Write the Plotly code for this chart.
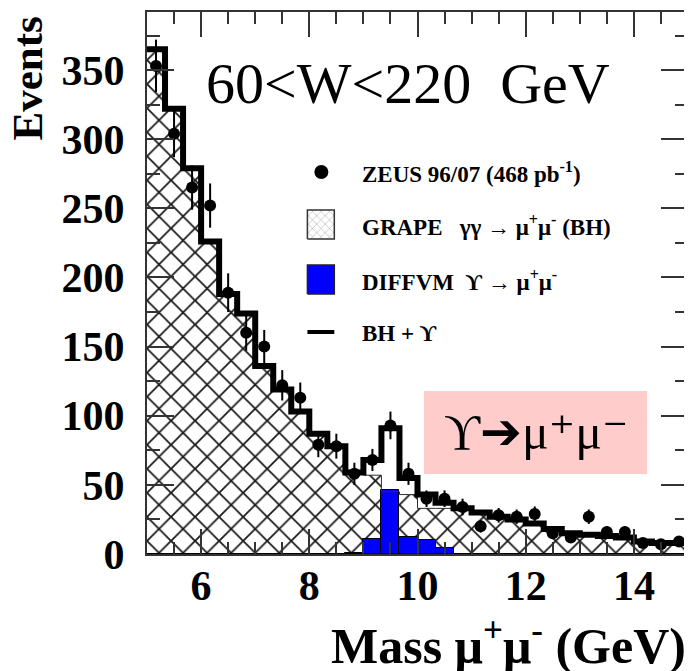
import numpy as np
import plotly.graph_objects as go

# ---------------- data ----------------
mass_lo, mass_hi, n_bins = 5.0, 15.0, 30
bin_width = (mass_hi - mass_lo) / n_bins

zeus_events = [353, 304, 265, 252, 189, 160, 150, 122, 113, 79,
               78, 58, 68, 93, 58, 40, 40, 34, 20, 28,
               27, 29, 15, 12, 27, 16, 16, 8, 7, 9]
zeus_errors = [19, 17, 16, 16, 14, 13, 12, 11, 11, 9,
               9, 8, 8, 10, 8, 6, 6, 6, 4.5, 5.3,
               5.2, 5.4, 3.9, 3.5, 5.2, 4, 4, 2.8, 2.6, 3]
grape_bh = [365, 322, 279, 226, 188, 174, 136, 119, 103, 87,
            78, 58, 57, 45, 43, 33, 33, 33, 30, 27,
            25, 22, 18, 15, 14, 13, 12, 9, 8, 8]
diffvm_upsilon = [0, 0, 0, 0, 0, 0, 0, 0, 0, 0,
                  0, 1, 11, 46, 12, 10, 4, 0, 0, 0,
                  0, 0, 0, 0, 0, 0, 0, 0, 0, 0]
x_tick_vals = [6, 8, 10, 12, 14]
y_tick_vals = [0, 50, 100, 150, 200, 250, 300, 350]

# ---------------- derived ----------------
edges = mass_lo + bin_width * np.arange(n_bins + 1)
centers = 0.5 * (edges[:-1] + edges[1:])
bh = np.array(grape_bh, dtype=float)
ups = np.array(diffvm_upsilon, dtype=float)
total = bh + ups

def step_y(v):
    return list(v) + [v[-1]]

SERIF = "Liberation Serif, Times New Roman, DejaVu Serif, serif"

fig = go.Figure()

# hatched GRAPE histogram
fig.add_trace(go.Bar(
    x=centers, y=bh, width=bin_width,
    marker=dict(color="white",
                pattern=dict(shape="x", size=17, solidity=0.2,
                             fgcolor="#1a1a1a", bgcolor="white",
                             fillmode="replace"),
                line=dict(width=0)),
    showlegend=False, hoverinfo="skip"))
# DIFFVM upsilon histogram
fig.add_trace(go.Bar(
    x=centers, y=ups, width=bin_width,
    marker=dict(color="#0000FF", line=dict(color="black", width=1)),
    showlegend=False, hoverinfo="skip"))
# thin outline of BH
fig.add_trace(go.Scatter(
    x=edges, y=step_y(bh), mode="lines", line_shape="hv",
    line=dict(color="#303030", width=1), showlegend=False, hoverinfo="skip"))
# BH + Upsilon thick line
fig.add_trace(go.Scatter(
    x=edges, y=step_y(total), mode="lines", line_shape="hv",
    line=dict(color="black", width=6), showlegend=False, hoverinfo="skip"))
# ZEUS data
fig.add_trace(go.Scatter(
    x=centers, y=zeus_events, mode="markers",
    marker=dict(color="black", size=12),
    error_y=dict(type="data", array=zeus_errors, thickness=2, width=0, color="black"),
    showlegend=False))

# ---------------- legend (overlay axes in fraction coords) ----------------
# reference pixel -> plot-area fraction (plot area: x 147..690, y 12..554)
def px_x(p):
    return (p - 147) / 543.0

def px_y(p):
    return (554 - p) / 542.0

lx0, lx1 = px_x(308), px_x(335)
fig.add_trace(go.Scatter(
    x=[px_x(322)], y=[px_y(172)], mode="markers",
    marker=dict(color="black", size=14), xaxis="x2", yaxis="y2",
    showlegend=False, hoverinfo="skip"))
hy0, hy1 = px_y(239), px_y(210)
fig.add_trace(go.Scatter(
    x=[lx0, lx1, lx1, lx0, lx0], y=[hy0, hy0, hy1, hy1, hy0],
    mode="lines", fill="toself", fillcolor="white",
    fillpattern=dict(shape="x", size=6, solidity=0.15, fgcolor="#999999",
                     bgcolor="white", fillmode="replace"),
    line=dict(color="#333333", width=1.5), xaxis="x2", yaxis="y2",
    showlegend=False, hoverinfo="skip"))
by0, by1 = px_y(294), px_y(265)
fig.add_trace(go.Scatter(
    x=[lx0, lx1, lx1, lx0, lx0], y=[by0, by0, by1, by1, by0],
    mode="lines", fill="toself", fillcolor="#0000FF",
    line=dict(color="#222222", width=1.5), xaxis="x2", yaxis="y2",
    showlegend=False, hoverinfo="skip"))
fig.add_trace(go.Scatter(
    x=[lx0, lx1], y=[px_y(332), px_y(332)], mode="lines",
    line=dict(color="black", width=4), xaxis="x2", yaxis="y2",
    showlegend=False, hoverinfo="skip"))

legend_texts = [
    ("ZEUS 96/07 (468 pb<sup>-1</sup>)", 172),
    ("GRAPE\u00a0\u00a0\u00a0γγ → μ<sup>+</sup>μ<sup>-</sup> (BH)", 225),
    ("DIFFVM\u00a0\u00a0ϒ → μ<sup>+</sup>μ<sup>-</sup>", 280),
    ("BH + ϒ", 333),
]
annotations = []
for txt, ypx in legend_texts:
    annotations.append(dict(
        text=txt, x=px_x(361), y=px_y(ypx), xref="paper", yref="paper",
        xanchor="left", yanchor="middle", showarrow=False,
        font=dict(family=SERIF, size=23, color="black", weight="bold")))

# W range label
annotations.append(dict(
    text="60&lt;W&lt;220\u00a0\u00a0GeV", x=px_x(409), y=px_y(83),
    xref="paper", yref="paper", xanchor="center", yanchor="middle",
    showarrow=False, font=dict(family=SERIF, size=58, color="black")))
# Upsilon box text
annotations.append(dict(
    text="ϒ<span style='font-family:DejaVu Sans'>➔</span>μ\u207aμ\u207b",
    x=px_x(537), y=px_y(432),
    xref="paper", yref="paper", xanchor="center", yanchor="middle",
    showarrow=False, font=dict(family=SERIF, size=50, color="black")))
# axis titles
annotations.append(dict(
    text="Events", x=px_x(28), y=px_y(14), xref="paper", yref="paper",
    xanchor="center", yanchor="top", textangle=-90, showarrow=False,
    font=dict(family=SERIF, size=43, color="black", weight="bold")))
annotations.append(dict(
    text="Mass μ<sup>+</sup>μ<sup>-</sup> (GeV)", x=1.0, y=px_y(642),
    xref="paper", yref="paper", xanchor="right", yanchor="middle",
    showarrow=False, font=dict(family=SERIF, size=50, color="black", weight="bold")))

shapes = [dict(
    type="rect", xref="paper", yref="paper",
    x0=px_x(425), x1=px_x(649), y0=px_y(474), y1=px_y(391),
    fillcolor="#FFCCCC", line=dict(width=0), layer="below")]

tickfont = dict(family=SERIF, size=42, color="black", weight="bold")

# page body has an 8px margin: figure is shifted by (8, 8) in the window
fig.update_layout(
    width=684, height=663,
    margin=dict(l=139, r=2, t=4, b=117),
    paper_bgcolor="white", plot_bgcolor="white",
    barmode="overlay", bargap=0,
    showlegend=False,
    annotations=annotations, shapes=shapes,
    xaxis=dict(range=[mass_lo, mass_hi], tickvals=x_tick_vals,
               ticktext=[str(v) for v in x_tick_vals],
               ticks="inside", ticklen=25, tickwidth=2, tickcolor="#333",
               showline=True, linewidth=2, linecolor="#333", mirror="ticks",
               showgrid=False, zeroline=False, tickfont=tickfont,
               ticklabelstandoff=-6,
               minor=dict(dtick=0.5, tick0=0, ticks="inside", ticklen=12,
                          tickwidth=2, tickcolor="#333", showgrid=False)),
    yaxis=dict(range=[0, 392], tickvals=y_tick_vals,
               ticktext=[str(v) for v in y_tick_vals],
               ticks="inside", ticklen=27, tickwidth=2, tickcolor="#333",
               showline=True, linewidth=2, linecolor="#333", mirror="ticks",
               showgrid=False, zeroline=False, tickfont=tickfont,
               ticklabelstandoff=12,
               minor=dict(dtick=25, tick0=0, ticks="inside", ticklen=13,
                          tickwidth=2, tickcolor="#333", showgrid=False)),
    xaxis2=dict(overlaying="x", range=[0, 1], visible=False, anchor="y2"),
    yaxis2=dict(overlaying="y", range=[0, 1], visible=False, anchor="x2"),
)

fig.write_html("out.html")
